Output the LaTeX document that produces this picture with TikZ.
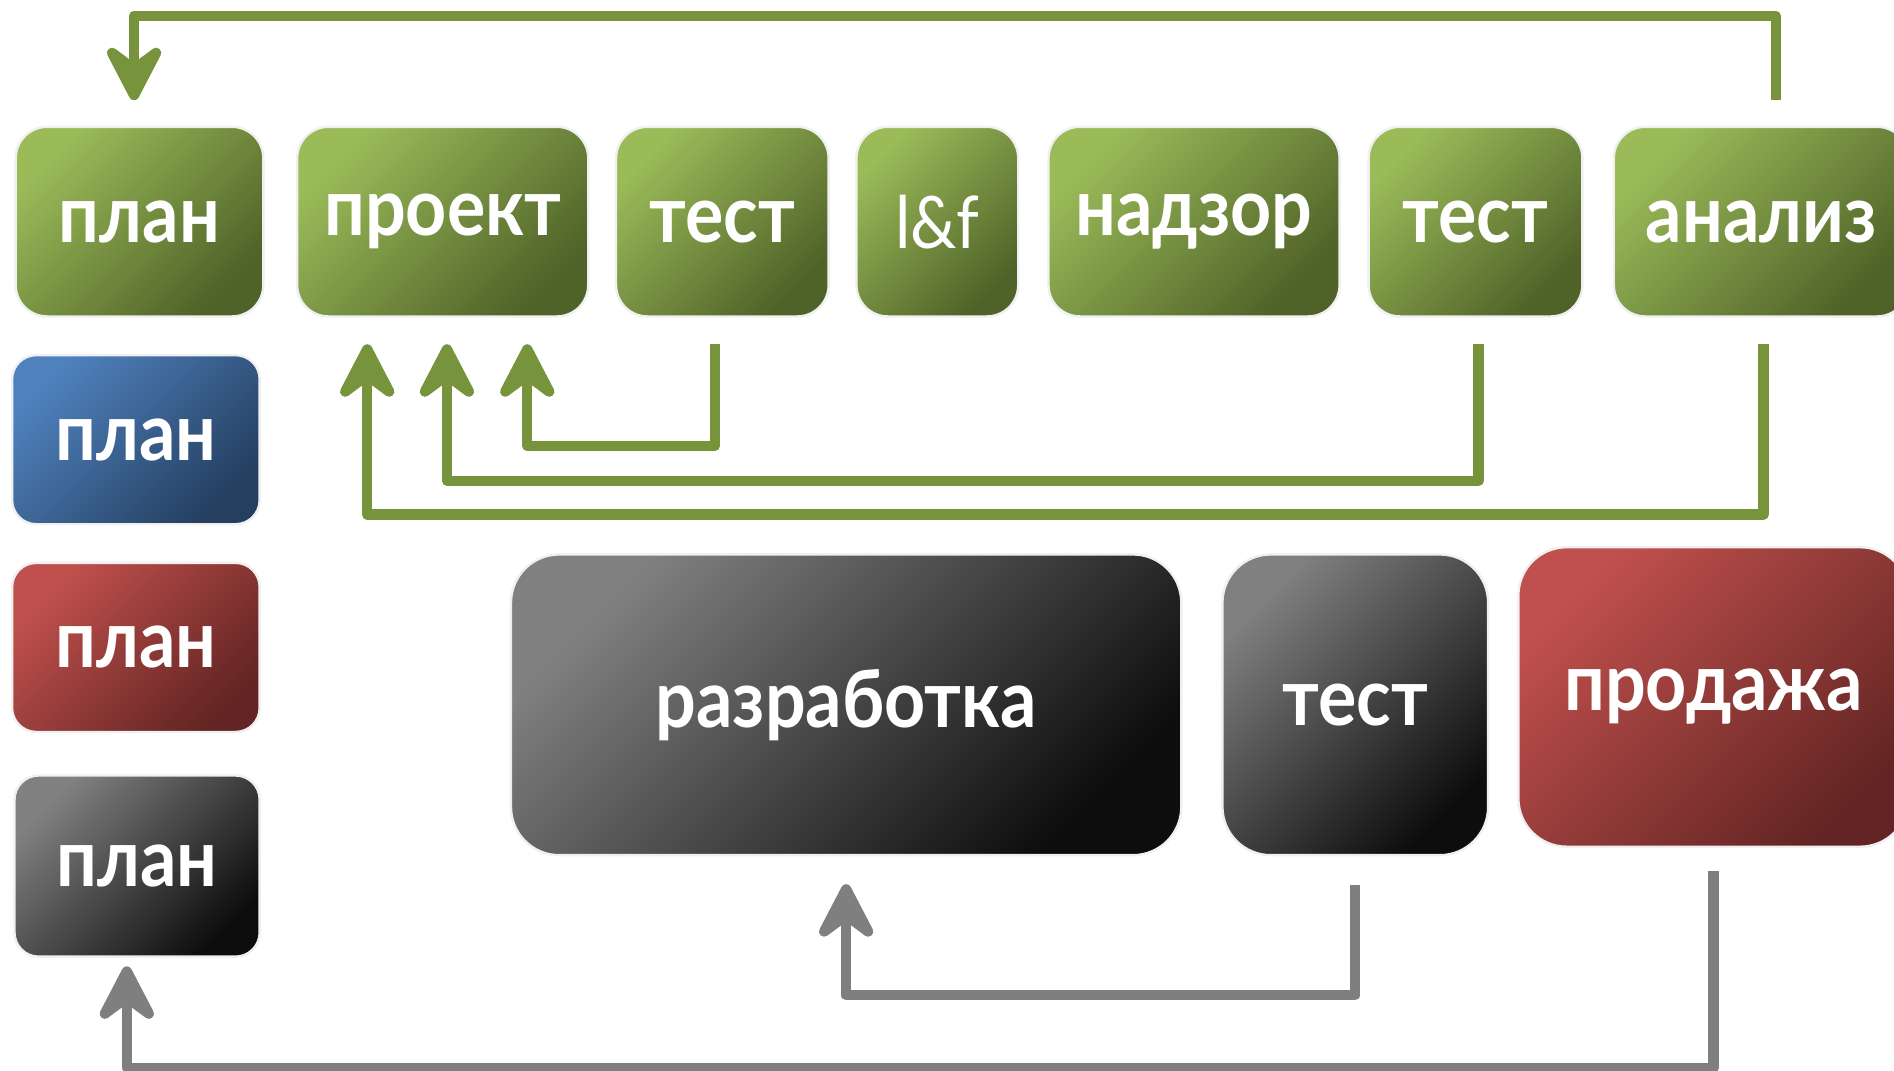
\documentclass[tikz,border=0pt]{standalone}
\usepackage{fontspec}
\setmainfont{Lato}[FakeStretch=0.9]
\usetikzlibrary{arrows.meta}
\definecolor{grnlight}{HTML}{9BBB59}
\definecolor{grndark}{HTML}{4F6228}
\definecolor{grnline}{HTML}{77933C}
\definecolor{blulight}{HTML}{4F81BD}
\definecolor{bludark}{HTML}{243F60}
\definecolor{redlight}{HTML}{C0504D}
\definecolor{reddark}{HTML}{632523}
\definecolor{grylight}{HTML}{808080}
\definecolor{grydark}{HTML}{0D0D0D}
\definecolor{gryline}{HTML}{7F7F7F}
\begin{document}
\begin{tikzpicture}[x=0.5pt,y=-0.5pt,
		box/.style = {rectangle, draw=black!6, line width=1pt, inner sep=0pt, text=white,
			font=\bfseries\fontsize{33}{33}\selectfont},
		green fill/.style = {top color=grnlight, bottom color=grndark, shading angle=45},
		blue fill/.style = {top color=blulight, bottom color=bludark, shading angle=45},
		red fill/.style = {top color=redlight, bottom color=reddark, shading angle=45},
		grey fill/.style = {top color=grylight, bottom color=grydark, shading angle=45},
		green box/.style = {box, green fill, rounded corners=13pt, minimum height=78.5pt},
		side box/.style = {box, rounded corners=10pt, minimum width=102.5pt, minimum height=70pt},
		big box/.style = {box, rounded corners=20pt, minimum height=124.5pt},
		link/.style = {line width=4.25pt, line join=round, -{Stealth[length=29pt,width=30pt,inset=11pt,round]}},
		green link/.style = {link, draw=grnline},
		grey link/.style = {link, draw=gryline}]
		
		\useasboundingbox (0,0) rectangle (1568,886);
		\clip (0,0) rectangle (1568,886);
		
		\node[green box, minimum width=102.5pt] (plan) at (115.5,183.5) {план};
		\node[green box, minimum width=120.5pt] (proekt) at (366.5,183.5) {проект};
		\node[green box, minimum width=88pt] (test1) at (598,183.5) {тест};
		\node[green box, minimum width=67pt, font=\mdseries\fontsize{30}{30}\selectfont] (lf) at (776,183.5) {l\&f};
		\node[green box, minimum width=120.5pt] (nadzor) at (988.5,183.5) {надзор};
		\node[green box, minimum width=88.5pt] (test2) at (1221.5,183.5) {тест};
		\node[green box, minimum width=122pt] (analiz) at (1458,183.5) {анализ};
		
		\node[side box, blue fill] (planB) at (112.5,364) {план};
		\node[side box, red fill] (planR) at (112.5,536) {план};
		\node[side box, grey fill, minimum width=101.5pt, minimum height=75pt] (planK) at (113.5,717) {план};
		
		\node[big box, grey fill, minimum width=277.5pt] (razrab) at (700.5,583.5) {разработка};
		\node[big box, grey fill, minimum width=110pt] (test3) at (1122,583.5) {тест};
		\node[big box, red fill, minimum width=161.5pt, minimum height=124pt] (prodazha) at (1418.5,577) {продажа};
		
		\draw[green link] ([xshift=6pt,yshift=10.5pt]analiz.north) -- ++(0,-70) -| ([xshift=-2.25pt,yshift=10.5pt]plan.north);
		\draw[green link] ([xshift=-3pt,yshift=-11pt]test1.south) -- ++(0,84) -| ([xshift=35pt,yshift=-11pt]proekt.south);
		\draw[green link] ([xshift=1.25pt,yshift=-11pt]test2.south) -- ++(0,113) -| ([xshift=1.75pt,yshift=-11pt]proekt.south);
		\draw[green link] ([xshift=1pt,yshift=-11pt]analiz.south) -- ++(0,141) -| ([xshift=-31.25pt,yshift=-11pt]proekt.south);
		
		\draw[grey link] ([yshift=-12pt]test3.south) -- ++(0,91) -| ([yshift=-11.5pt]razrab.south);
		\draw[grey link] ([yshift=-9.5pt]prodazha.south) -- ++(0,163) -| ([xshift=-4.25pt,yshift=-3.5pt]planK.south);
\end{tikzpicture}
\end{document}
